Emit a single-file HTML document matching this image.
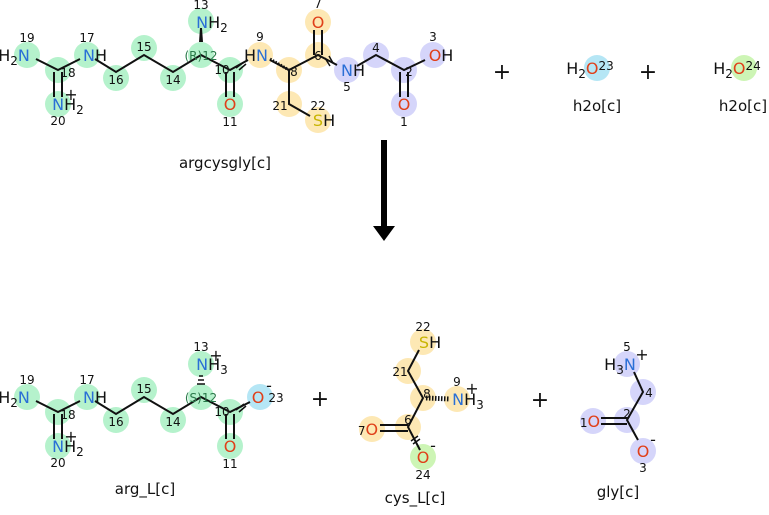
<!DOCTYPE html>
<html><body style="margin:0;background:#fff">
<svg width="769" height="510" xmlns="http://www.w3.org/2000/svg" font-family="DejaVu Sans, Liberation Sans, sans-serif">
<style>
.g{fill:#b5f2cc}.y{fill:#fde8b4}.p{fill:#d5d5fa}.c{fill:#b5e6f5}.l{fill:#cdf5b5}
.b{stroke:#111;stroke-width:2;fill:none}
.a{font-size:16px;text-anchor:middle}
.num{font-size:12px;fill:#111;text-anchor:middle}
.cn{fill:#2a6fd6}.co{fill:#e0401a}.cs{fill:#c8b400}.k{fill:#111}
.t{font-size:15px;text-anchor:middle;fill:#111}
.pl{text-anchor:middle;fill:#111}
</style>
<!-- TOP circles -->
<g>
<circle class="g" cx="27" cy="55" r="13"/><circle class="g" cx="58" cy="70" r="13"/><circle class="g" cx="87" cy="55" r="13"/><circle class="g" cx="58" cy="104" r="13"/>
<circle class="g" cx="116" cy="78" r="13"/><circle class="g" cx="144" cy="48" r="13"/><circle class="g" cx="173" cy="78" r="13"/><circle class="g" cx="201" cy="55" r="13"/><circle class="g" cx="201" cy="21" r="13"/>
<circle class="g" cx="230" cy="70" r="13"/><circle class="g" cx="230" cy="104" r="13"/>
<circle class="y" cx="260" cy="55" r="13"/><circle class="y" cx="289" cy="70" r="13"/><circle class="y" cx="318" cy="55" r="13"/><circle class="y" cx="318" cy="22" r="13"/><circle class="y" cx="289" cy="104" r="13"/><circle class="y" cx="318" cy="120" r="13"/>
<circle class="p" cx="347" cy="70" r="13"/><circle class="p" cx="376" cy="55" r="13"/><circle class="p" cx="404" cy="70" r="13"/><circle class="p" cx="433" cy="55" r="13"/><circle class="p" cx="404" cy="104" r="13"/>
<circle class="c" cx="597" cy="68" r="13"/><circle class="l" cx="744" cy="68" r="13"/>
</g>
<!-- TOP bonds -->
<path class="b" d="M36 59L58 70L80 59M54 72V97M62 72V97M95 59L116 72L144 55L173 72L201 55L230 70L248 60M226 72V97M234 72V97M270 60L289 70L318 55L337 65M289 70V104L310 116M357 66L376 55L404 70L425 60M400 72V97M408 72V97M314 55V30M322 55V30"/>
<path d="M199 42L203 42L202 28L200 28Z" fill="#111"/>
<path d="M236 68L244 62M239 70L246 64M325 58L330 66M329 56L333 63" stroke="#111" stroke-width="1.5"/>
<path d="M270 59L289 70" stroke="#111" stroke-width="3" stroke-dasharray="1.5 1.5" />
<!-- TOP labels -->
<text x="14" y="61" class="a"><tspan class="k">H</tspan><tspan class="k" style="font-size:12px" dy="4">2</tspan><tspan class="cn" dy="-4">N</tspan></text>
<text x="27" y="42" class="num">19</text>
<text x="95" y="61" class="a"><tspan class="cn">N</tspan><tspan class="k">H</tspan></text><text x="87" y="42" class="num">17</text>
<text x="68" y="77" class="num">18</text>
<text x="68" y="110" class="a"><tspan class="cn">N</tspan><tspan class="k">H</tspan><tspan class="k" style="font-size:12px" dy="4">2</tspan></text>
<text x="71" y="100" class="a k">+</text><text x="58" y="125" class="num">20</text>
<text x="116" y="84" class="num">16</text><text x="144" y="51" class="num">15</text><text x="173" y="84" class="num">14</text>
<text x="201" y="60" class="num" style="fill:#2a7a4a">(R)12</text><text x="222" y="74" class="num">10</text>
<text x="212" y="28" class="a"><tspan class="cn">N</tspan><tspan class="k">H</tspan><tspan class="k" style="font-size:12px" dy="4">2</tspan></text><text x="201" y="9" class="num">13</text>
<text x="230" y="110" class="a co">O</text><text x="230" y="126" class="num">11</text>
<text x="256" y="61" class="a"><tspan class="k">H</tspan><tspan class="cn">N</tspan></text><text x="260" y="41" class="num">9</text>
<text x="294" y="76" class="num">8</text><text x="318" y="60" class="num">6</text>
<text x="318" y="28" class="a co">O</text><text x="318" y="8" class="num">7</text>
<text x="353" y="76" class="a"><tspan class="cn">N</tspan><tspan class="k">H</tspan></text><text x="347" y="91" class="num">5</text>
<text x="376" y="52" class="num">4</text><text x="409" y="76" class="num">2</text>
<text x="441" y="61" class="a"><tspan class="co">O</tspan><tspan class="k">H</tspan></text><text x="433" y="41" class="num">3</text>
<text x="404" y="110" class="a co">O</text><text x="404" y="126" class="num">1</text>
<text x="280" y="110" class="num">21</text><text x="318" y="110" class="num">22</text>
<text x="324" y="126" class="a"><tspan class="cs">S</tspan><tspan class="k">H</tspan></text>
<text x="225" y="168" class="t">argcysgly[c]</text>
<text x="502" y="79" class="pl" style="font-size:22px">+</text>
<text x="590" y="74" class="a k">H<tspan style="font-size:12px" dy="4">2</tspan><tspan class="co" dy="-4">O</tspan><tspan style="font-size:12px" dy="-4">23</tspan></text>
<text x="597" y="111" class="t">h2o[c]</text>
<text x="648" y="79" class="pl" style="font-size:22px">+</text>
<text x="737" y="74" class="a k">H<tspan style="font-size:12px" dy="4">2</tspan><tspan class="co" dy="-4">O</tspan><tspan style="font-size:12px" dy="-4">24</tspan></text>
<text x="743" y="111" class="t">h2o[c]</text>
<!-- arrow -->
<rect x="381" y="140" width="6" height="88" fill="#000"/><path d="M373 226L395 226L384 241Z" fill="#000"/>
<!-- BOTTOM arg -->
<circle class="g" cx="27" cy="397" r="13"/><circle class="g" cx="58" cy="412" r="13"/><circle class="g" cx="87" cy="397" r="13"/><circle class="g" cx="58" cy="446" r="13"/>
<circle class="g" cx="116" cy="420" r="13"/><circle class="g" cx="144" cy="390" r="13"/><circle class="g" cx="173" cy="420" r="13"/><circle class="g" cx="201" cy="397" r="13"/><circle class="g" cx="201" cy="364" r="13"/>
<circle class="g" cx="230" cy="412" r="13"/><circle class="g" cx="230" cy="446" r="13"/><circle class="c" cx="260" cy="397" r="13"/>
<path class="b" d="M36 401L58 412L80 401M54 414V439M62 414V439M95 401L116 414L144 397L173 414L201 397L230 412L250 402M226 414V439M234 414V439"/>
<path d="M197 384H205M198 380H204M199 376H203" stroke="#111" stroke-width="1.5"/>
<path d="M236 410L244 404M239 412L246 406" stroke="#111" stroke-width="1.5"/>
<text x="14" y="403" class="a"><tspan class="k">H</tspan><tspan class="k" style="font-size:12px" dy="4">2</tspan><tspan class="cn" dy="-4">N</tspan></text><text x="27" y="384" class="num">19</text>
<text x="95" y="403" class="a"><tspan class="cn">N</tspan><tspan class="k">H</tspan></text><text x="87" y="384" class="num">17</text>
<text x="68" y="419" class="num">18</text>
<text x="68" y="452" class="a"><tspan class="cn">N</tspan><tspan class="k">H</tspan><tspan class="k" style="font-size:12px" dy="4">2</tspan></text>
<text x="71" y="442" class="a k">+</text><text x="58" y="467" class="num">20</text>
<text x="116" y="426" class="num">16</text><text x="144" y="393" class="num">15</text><text x="173" y="426" class="num">14</text>
<text x="201" y="402" class="num" style="fill:#2a7a4a">(S)12</text><text x="222" y="416" class="num">10</text>
<text x="212" y="370" class="a"><tspan class="cn">N</tspan><tspan class="k">H</tspan><tspan class="k" style="font-size:12px" dy="4">3</tspan></text><text x="216" y="361" class="a k">+</text><text x="201" y="351" class="num">13</text>
<text x="230" y="452" class="a co">O</text><text x="230" y="468" class="num">11</text>
<text x="258" y="403" class="a co">O</text><text x="269" y="391" class="a k">-</text><text x="276" y="402" class="num">23</text>
<text x="145" y="494" class="t">arg_L[c]</text>
<text x="320" y="406" class="pl" style="font-size:22px">+</text>
<!-- cys -->
<circle class="y" cx="423" cy="342" r="13"/><circle class="y" cx="408" cy="371" r="13"/><circle class="y" cx="423" cy="398" r="13"/><circle class="y" cx="457" cy="399" r="13"/><circle class="y" cx="408" cy="427" r="13"/><circle class="y" cx="372" cy="429" r="13"/><circle class="l" cx="423" cy="457" r="13"/>
<path class="b" d="M419 350L408 371L423 398L408 427L420 450M408 425H380M408 431H380"/>
<path d="M426 398L450 399" stroke="#111" stroke-width="5" stroke-dasharray="1.5 1.5"/>
<path d="M411 441L418 436M413 444L420 439" stroke="#111" stroke-width="1.5"/>
<text x="430" y="348" class="a"><tspan class="cs">S</tspan><tspan class="k">H</tspan></text><text x="423" y="331" class="num">22</text>
<text x="400" y="376" class="num">21</text><text x="427" y="398" class="num">8</text><text x="408" y="424" class="num">6</text>
<text x="468" y="405" class="a"><tspan class="cn">N</tspan><tspan class="k">H</tspan><tspan class="k" style="font-size:12px" dy="4">3</tspan></text><text x="472" y="394" class="a k">+</text><text x="457" y="386" class="num">9</text>
<text x="368" y="435" class="a"><tspan class="k" style="font-size:12px">7</tspan><tspan class="co">O</tspan></text>
<text x="423" y="463" class="a co">O</text><text x="433" y="451" class="a k">-</text><text x="423" y="479" class="num">24</text>
<text x="415" y="503" class="t">cys_L[c]</text>
<text x="540" y="407" class="pl" style="font-size:22px">+</text>
<!-- gly -->
<circle class="p" cx="627" cy="364" r="13"/><circle class="p" cx="643" cy="392" r="13"/><circle class="p" cx="627" cy="420" r="13"/><circle class="p" cx="593" cy="421" r="13"/><circle class="p" cx="643" cy="451" r="13"/>
<path class="b" d="M634 372L643 392L627 420L638 440M627 418H601M627 424H601"/>
<text x="620" y="370" class="a"><tspan class="k">H</tspan><tspan class="k" style="font-size:12px" dy="4">3</tspan><tspan class="cn" dy="-4">N</tspan></text><text x="642" y="360" class="a k">+</text><text x="627" y="351" class="num">5</text>
<text x="649" y="397" class="num">4</text><text x="627" y="418" class="num">2</text>
<text x="590" y="427" class="a"><tspan class="k" style="font-size:12px">1</tspan><tspan class="co">O</tspan></text>
<text x="643" y="457" class="a co">O</text><text x="653" y="445" class="a k">-</text><text x="643" y="472" class="num">3</text>
<text x="618" y="497" class="t">gly[c]</text>
</svg>
</body></html>
